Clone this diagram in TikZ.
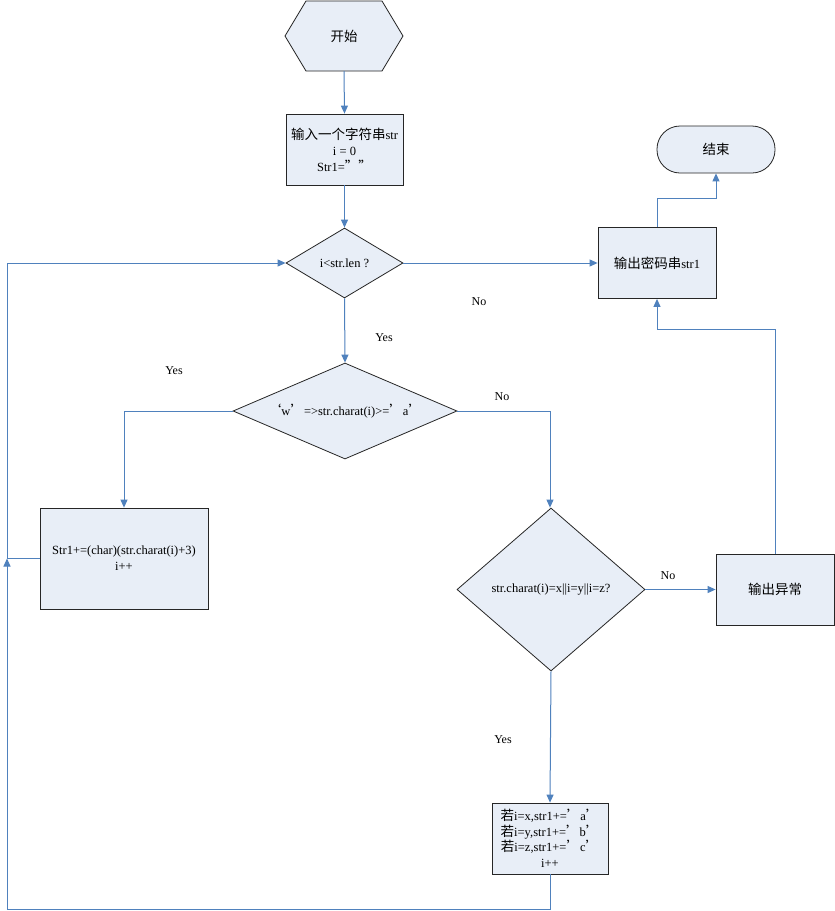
\documentclass[tikz,border=0pt]{standalone}
\usepackage{fontspec}
\setmainfont{Liberation Serif}
\newfontfamily\cjk[Scale=1.08]{Noto Sans CJK SC}
\usetikzlibrary{shapes.geometric,arrows.meta}
\definecolor{boxfill}{RGB}{232,238,247}
\definecolor{linec}{RGB}{79,129,189}
\begin{document}
\begin{tikzpicture}[x=1pt,y=-1pt,
  box/.style={draw=black!85, fill=boxfill, line width=0.8pt, inner sep=0pt, align=center, font=\fontsize{12.5}{16}\selectfont},
  dia/.style={box, diamond},
  conn/.style={draw=linec, line width=1pt, -{Triangle[length=8pt,width=7pt]}},
  lab/.style={font=\fontsize{12}{14}\selectfont, inner sep=0pt}]
\useasboundingbox[fill=white] (0,0) rectangle (835,911);
% start hexagon
\filldraw[fill=boxfill, draw=black!85, line width=0.8pt] (285,36) -- (306,1) -- (382,1) -- (403,36) -- (382,71) -- (306,71) -- cycle;
\node[inner sep=0pt, minimum width=118pt, minimum height=70pt, font=\fontsize{12.5}{16}\selectfont] (start) at (344,36) {\cjk 开始};
\node[box, minimum width=117pt, minimum height=71pt] (input) at (344.5,149.5) {{\cjk 输入一个字符串}str\\i = 0\\Str1={\cjk ””}};
\node[dia, minimum width=117pt, minimum height=70pt] (d1) at (344.5,263) {\makebox[0pt]{i<str.len ?}};
\node[dia, minimum width=224pt, minimum height=96pt] (d2) at (345,411) {\makebox[0pt]{{\cjk ‘}w{\cjk ’}=>str.charat(i)>={\cjk ’}a{\cjk ’}}};
\node[box, minimum width=168pt, minimum height=101pt] (left) at (124,558.5) {Str1+=(char)(str.charat(i)+3)\\i++};
\node[dia, minimum width=188pt, minimum height=163pt] (d3) at (551,589.5) {\makebox[0pt]{str.charat(i)=x||i=y||i=z?}};
\node[box, minimum width=118pt, minimum height=71pt] (err) at (775,589.5) {\cjk 输出异常};
\node[box, minimum width=118pt, minimum height=71pt] (out) at (657,263) {{\cjk 输出密码串}str1};
\node[box, minimum width=118pt, minimum height=47pt, rounded corners=23pt] (end) at (716,149.5) {\cjk 结束};
\node[box, minimum width=116pt, minimum height=71pt, font=\fontsize{12.5}{15.5}\selectfont] (last) at (550,838.5) {{\cjk 若}i=x,str1+={\cjk ’}a{\cjk ’}\\{\cjk 若}i=y,str1+={\cjk ’}b{\cjk ’}\\{\cjk 若}i=z,str1+={\cjk ’}c{\cjk ’}\\i++};
% coordinates
\coordinate (lb) at (7,909);
\coordinate (lm) at (7,558.5);
\coordinate (lt) at (7,263);
% connectors
\draw[conn] (start.south) -- (input.north);
\draw[conn] (input.south) -- (d1.north);
\draw[conn] (d1.south) -- (d2.north);
\draw[conn] (d2.west) -| (left.north);
\draw[conn] (d2.east) -| (last.north |- d3.north);
\draw[conn] (d1.east) -- (out.west);
\draw[conn] (d3.east) -- (err.west);
\draw[conn] (d3.south) -- (last.north);
\draw[conn] (err.north) -- ++(0,-224) -| (out.south);
\draw[conn] (out.north) -- ++(0,-29) -| (end.south);
\draw[conn] (last.south) |- (lb) -- (lm);
\draw[conn] (left.west) -- (lm) -- (lt) -- (d1.west);
% labels
\node[lab] (l1) at (479,302) {No};
\node[lab] (l2) at (384,338) {Yes};
\node[lab] (l3) at (174,371) {Yes};
\node[lab] (l4) at (502,397) {No};
\node[lab] (l5) at (668,576) {No};
\node[lab] (l6) at (503,740) {Yes};
\end{tikzpicture}
\end{document}
